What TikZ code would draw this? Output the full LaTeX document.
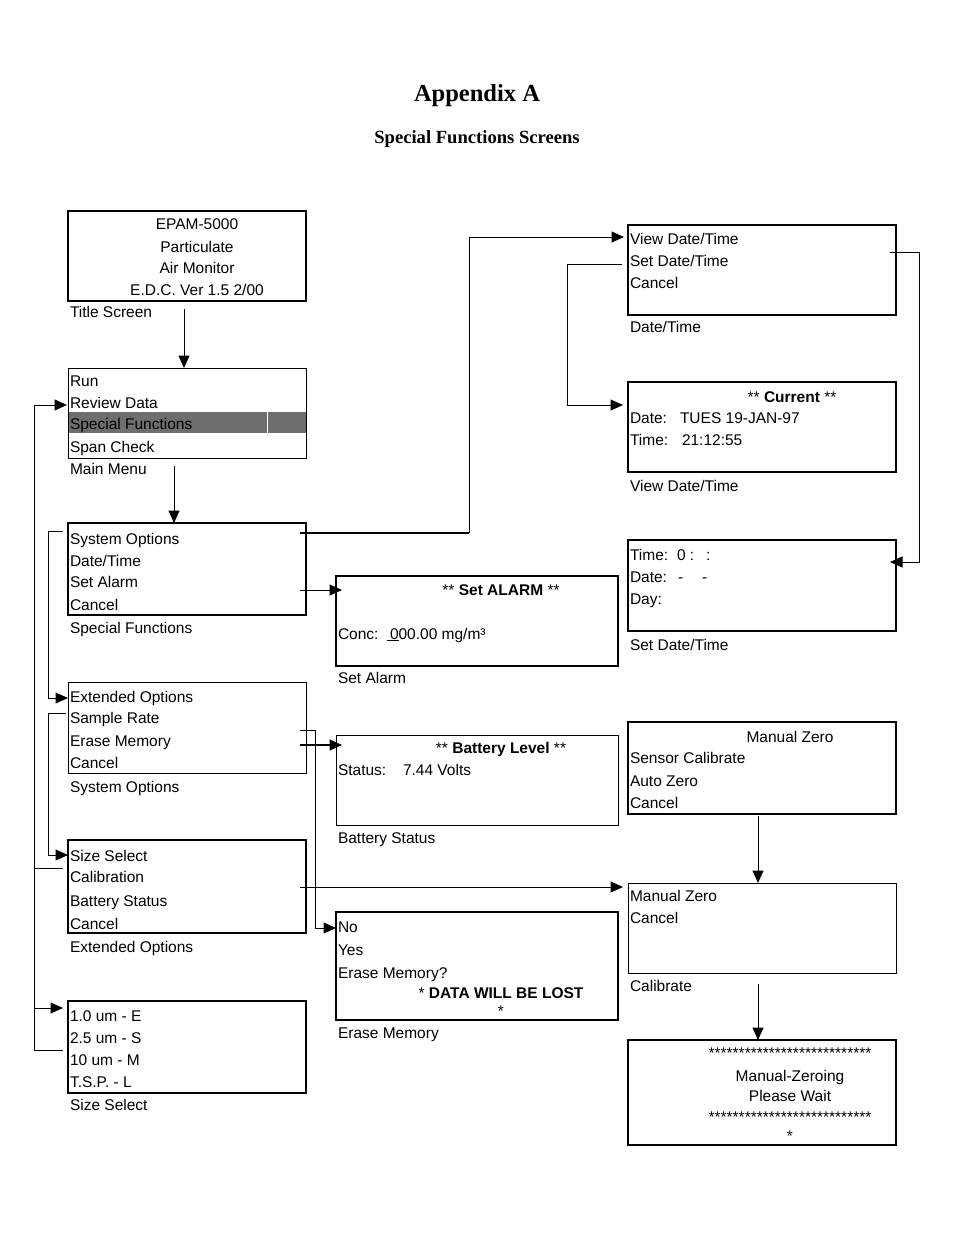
\documentclass[tikz,border=0pt]{standalone}
\usepackage{fontspec}
\setmainfont{Liberation Sans}
\newfontfamily\ttlfont{Liberation Serif}
\usetikzlibrary{arrows.meta}
\newcounter{tn}
\newcommand\TL[3]{\stepcounter{tn}\node[txt] (t\arabic{tn}) at (#1,#2) {#3};}
\newcommand\TC[3]{\stepcounter{tn}\node[txt,anchor=base] (t\arabic{tn}) at (#1,#2) {#3};}
\definecolor{hl}{RGB}{110,110,110}
\begin{document}
\begin{tikzpicture}[x=1pt,y=-1pt,
 txt/.style={anchor=base west,inner sep=0pt,outer sep=0pt,font=\fontsize{15.5}{18}\selectfont},
 scr/.style={draw,line width=#1,inner sep=0pt,outer sep=0pt},
 scr/.default=1pt,
 wl/.style={minimum width=238pt},
 wm/.style={minimum width=282pt},
 wr/.style={minimum width=268pt},
 ln/.style={line width=1pt},
 arr/.style={line width=1pt,-{Triangle[length=12.5pt,width=11pt]}},
]
\useasboundingbox (0,0) rectangle (954,1235);

% titles
\node[anchor=base,inner sep=0pt,font=\ttlfont\bfseries\fontsize{24.5}{28}\selectfont] (head) at (477,101) {Appendix A};
\node[anchor=base,inner sep=0pt,font=\ttlfont\bfseries\fontsize{18.6}{22}\selectfont] (sub) at (477,143) {Special Functions Screens};

% highlight in main menu
\fill[hl] (68,412) rectangle (306,433);
\draw[white,line width=1pt] (267,412) -- (267,433);

% boxes
\node[scr=2pt,wl,minimum height=90pt] (title) at (187,256) {};
\node[scr=1pt,wl,minimum height=90pt] (main) at (187,413) {};
\node[scr=2pt,wl,minimum height=92pt] (sf) at (187,569) {};
\node[scr=1pt,wl,minimum height=91pt] (so) at (187,727.5) {};
\node[scr=1.5pt,wl,minimum height=93pt] (eo) at (187,886.5) {};
\node[scr=2pt,wl,minimum height=92pt] (ss) at (187,1047) {};
\node[scr=2pt,wm,minimum height=90pt] (sa) at (477,621) {};
\node[scr=1pt,wm,minimum height=90pt] (bs) at (477,780) {};
\node[scr=1.5pt,wm,minimum height=108pt] (em) at (477,966) {};
\node[scr=2pt,wr,minimum height=90pt] (dt) at (762,270) {};
\node[scr=1.5pt,wr,minimum height=90pt] (vdt) at (762,427) {};
\node[scr=2pt,wr,minimum height=91pt] (sdt) at (762,585.5) {};
\node[scr=1.5pt,wr,minimum height=92pt] (mz) at (762,768) {};
\node[scr=1pt,wr,minimum height=90pt] (calib) at (762,928) {};
\node[scr=2pt,wr,minimum height=105pt] (mzg) at (762,1092.5) {};

% texts: title screen
\TC{197}{229}{EPAM-5000}
\TC{197}{252}{Particulate}
\TC{197}{273}{Air Monitor}
\TC{197}{295}{E.D.C. Ver 1.5 2/00}
\TL{70}{317}{Title Screen}
% main menu
\TL{70}{386}{Run}
\TL{70}{408}{Review Data}
\TL{70}{429}{Special Functions}
\TL{70}{452}{Span Check}
\TL{70}{474}{Main Menu}
% special functions
\TL{70}{544}{System Options}
\TL{70}{566}{Date/Time}
\TL{70}{587}{Set Alarm}
\TL{70}{610}{Cancel}
\TL{70}{633}{Special Functions}
% system options
\TL{70}{702}{Extended Options}
\TL{70}{723}{Sample Rate}
\TL{70}{746}{Erase Memory}
\TL{70}{768}{Cancel}
\TL{70}{792}{System Options}
% extended options
\TL{70}{861}{Size Select}
\TL{70}{882}{Calibration}
\TL{70}{906}{Battery Status}
\TL{70}{929}{Cancel}
\TL{70}{952}{Extended Options}
% size select
\TL{70}{1021}{1.0 um - E}
\TL{70}{1043}{2.5 um - S}
\TL{70}{1065}{10 um - M}
\TL{70}{1087}{T.S.P. - L}
\TL{70}{1110}{Size Select}
% set alarm
\TC{501}{595}{** \textbf{Set ALARM} **}
\TL{338}{639}{Conc:}
\TL{387}{639}{\underline{\kern3pt 0}00.00 mg/m³}
\TL{338}{683}{Set Alarm}
% battery
\TC{501}{753}{** \textbf{Battery Level} **}
\TL{338}{775}{Status:}
\TL{403}{775}{7.44 Volts}
\TL{338}{843}{Battery Status}
% erase memory
\TL{338}{932}{No}
\TL{338}{955}{Yes}
\TL{338}{978}{Erase Memory?}
\TC{501}{998}{* \textbf{DATA WILL BE LOST}}
\TC{501}{1016}{*}
\TL{338}{1038}{Erase Memory}
% date/time
\TL{630}{244}{View Date/Time}
\TL{630}{266}{Set Date/Time}
\TL{630}{288}{Cancel}
\TL{630}{332}{Date/Time}
% view date/time
\TC{792}{402}{** \textbf{Current} **}
\TL{630}{423}{Date:}
\TL{680}{423}{TUES 19-JAN-97}
\TL{630}{445}{Time:}
\TL{682}{445}{21:12:55}
\TL{630}{491}{View Date/Time}
% set date/time
\TL{630}{560}{Time:}
\TL{677}{560}{0 :}
\TL{706}{560}{:}
\TL{630}{582}{Date:}
\TL{678}{582}{-}
\TL{702}{582}{-}
\TL{630}{604}{Day:}
\TL{630}{650}{Set Date/Time}
% manual zero menu
\TC{790}{742}{Manual Zero}
\TL{630}{763}{Sensor Calibrate}
\TL{630}{786}{Auto Zero}
\TL{630}{808}{Cancel}
% calibrate
\TL{630}{901}{Manual Zero}
\TL{630}{923}{Cancel}
\TL{630}{991}{Calibrate}
% manual zeroing
\TC{790}{1058}{***************************}
\TC{790}{1081}{Manual-Zeroing}
\TC{790}{1101}{Please Wait}
\TC{790}{1122}{***************************}
\TC{790}{1141}{*}

% connectors
\coordinate (a1) at (184,309);
\draw[arr] (a1) -- (a1 |- main.north);
\coordinate (a2) at (174,466);
\draw[arr] (a2) -- (a2 |- sf.north);

% left rail x=34
\coordinate (rd) at (34,405);
\coordinate (yCal) at (0,868);
\coordinate (y25) at (0,1050);
\coordinate (y10) at (0,1008);
\draw[ln] (eo.west |- yCal) ++(-5,0) -- (rd |- yCal);
\draw[arr,shorten >=1pt] (ss.west |- y25) ++(-5,0) -- (rd |- y25) -- (rd) -- (rd -| main.west);
\draw[arr,shorten >=5pt] (rd |- y10) -- (ss.west |- y10);

% rails x=48
\coordinate (r48a) at (48,531);
\coordinate (r48b) at (48,698);
\draw[arr] (sf.west |- r48a) ++(-5,0) -- (r48a) -- (r48b) -- (r48b -| so.west);
\coordinate (r48c) at (48,713);
\coordinate (r48d) at (48,855);
\draw[arr] (so.west |- r48c) ++(-2,0) -- (r48c) -- (r48d) -- (r48d -| eo.west);

% special functions -> date/time
\coordinate (j469) at (469,533);
\coordinate (j469t) at (469,237);
\draw[line width=1.6pt] (sf.east |- j469) ++(-6,0) -- (j469);
\draw[arr,shorten >=4pt] (j469) -- (j469t) -- (j469t -| dt.west);

% set alarm
\coordinate (ysa) at (0,590);
\draw[arr,shorten >=-6pt] (sf.east |- ysa) ++(-6,0) -- (sa.west |- ysa);

% battery (from erase memory line)
\coordinate (ybs) at (0,745);
\draw[arr,line width=1.6pt,shorten >=-6pt] (so.east |- ybs) ++(-6,0) -- (bs.west |- ybs);

% erase memory
\coordinate (e315a) at (315,730);
\coordinate (e315b) at (315,928);
\draw[arr] (so.east |- e315a) ++(-6,0) -- (e315a) -- (e315b) -- (e315b -| em.west);

% calibration
\coordinate (ycal2) at (0,887);
\draw[arr,shorten >=5pt] (eo.east |- ycal2) ++(-6,0) -- (calib.west |- ycal2);

% set date/time -> view date/time
\coordinate (k567a) at (567,264);
\coordinate (k567b) at (567,405);
\draw[arr,shorten >=5pt] (dt.west |- k567a) ++(-6,0) -- (k567a) -- (k567b) -- (k567b -| vdt.west);

% date/time -> set date/time (right)
\coordinate (k919a) at (919,252);
\coordinate (k919b) at (919,562);
\draw[arr,shorten >=-6pt] (dt.east |- k919a) ++(-6,0) -- (k919a) -- (k919b) -- (k919b -| sdt.east);

% manual zero -> calibrate -> zeroing
\coordinate (m1) at (758,816);
\draw[arr] (m1) -- (m1 |- calib.north);
\coordinate (m2) at (758,984);
\draw[arr] (m2) -- (m2 |- mzg.north);
\end{tikzpicture}
\end{document}
